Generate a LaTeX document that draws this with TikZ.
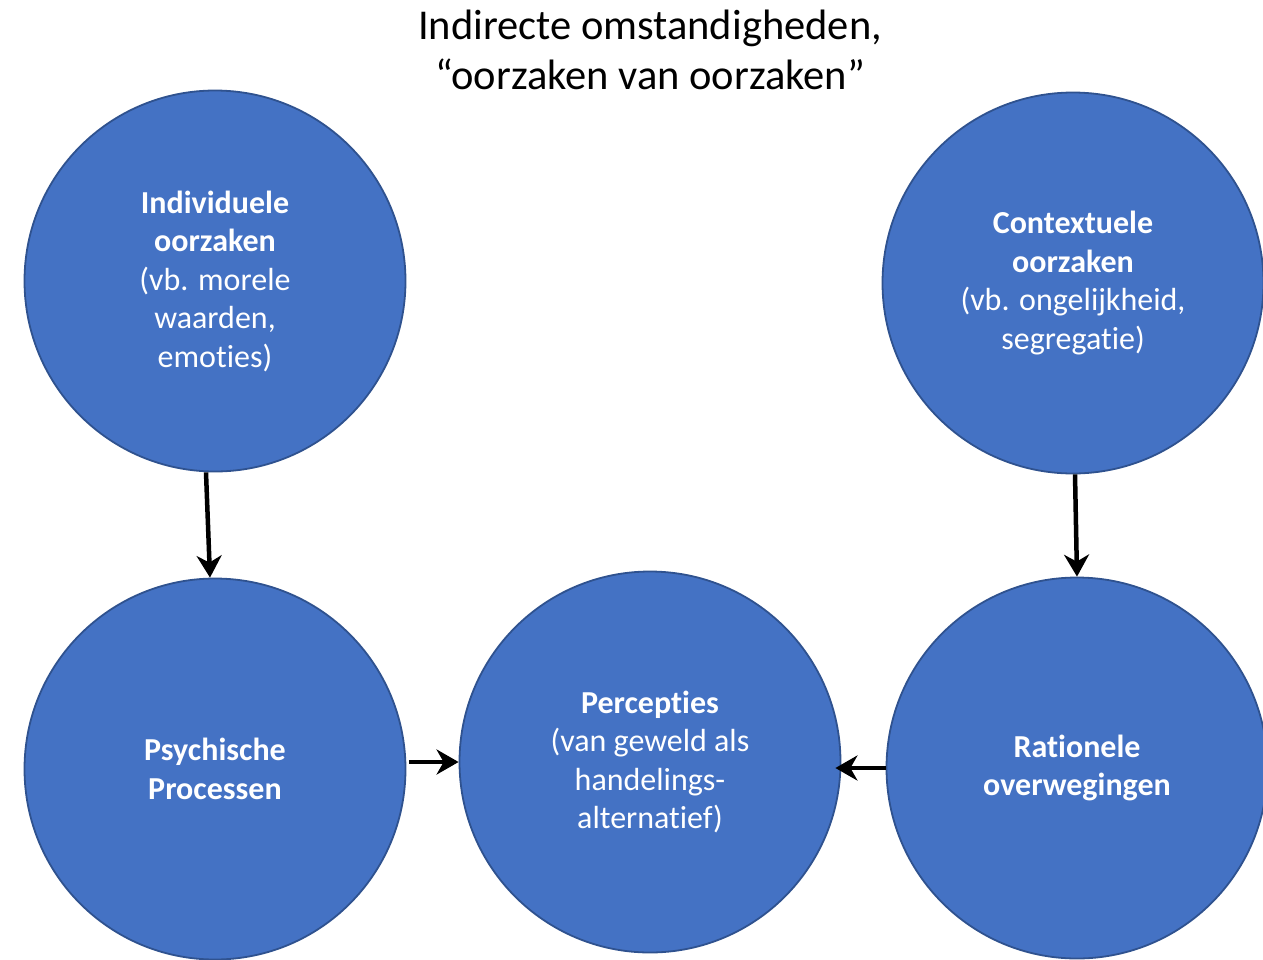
\documentclass[tikz,border=0pt]{standalone}
\usepackage{fontspec}
\setmainfont{Carlito}[Ligatures=NoCommon]
\usetikzlibrary{arrows.meta}
\definecolor{circfill}{HTML}{4472C4}
\definecolor{circline}{HTML}{2F528F}
\begin{document}
\begin{tikzpicture}[x=1pt,y=-1pt,
  factor/.style={circle,fill=circfill,draw=circline,line width=1.8pt,minimum size=381pt,inner sep=0pt,
    text=white,align=center,font=\fontsize{32}{38.5}\selectfont},
  link/.style={-{Stealth[length=22pt,width=25pt,inset=7pt]},line width=4.5pt}]
\useasboundingbox (0,0) rectangle (1263,959);
\node[align=center,font=\fontsize{42.5}{50}\selectfont] (title) at (650,50) {Indirecte omstandigheden,\\“oorzaken van oorzaken”};
\node[factor] (indiv) at (215,281) {\textbf{Individuele}\\\textbf{oorzaken}\\(vb. morele\\waarden,\\emoties)};
\node[factor] (context) at (1073,283) {\textbf{Contextuele}\\\textbf{oorzaken}\\(vb. ongelijkheid,\\segregatie)};
\node[factor] (psych) at (215,769) {\textbf{Psychische}\\\textbf{Processen}};
\node[factor] (percep) at (650,762) {\textbf{Percepties}\\(van geweld als\\handelings-\\alternatief)};
\node[factor] (ratio) at (1077,768) {\textbf{Rationele}\\\textbf{overwegingen}};
\draw[link] ([xshift=-9pt]indiv.south) -- ([xshift=-5pt]psych.north);
\draw[link] ([xshift=2pt]context.south) -- (ratio.north);
\draw[link] ([xshift=3pt]psych.east |- percep.west) -- (percep.west);
\draw[link] (ratio.west) -- ([xshift=-6pt]percep.east |- ratio.west);
\end{tikzpicture}
\end{document}
